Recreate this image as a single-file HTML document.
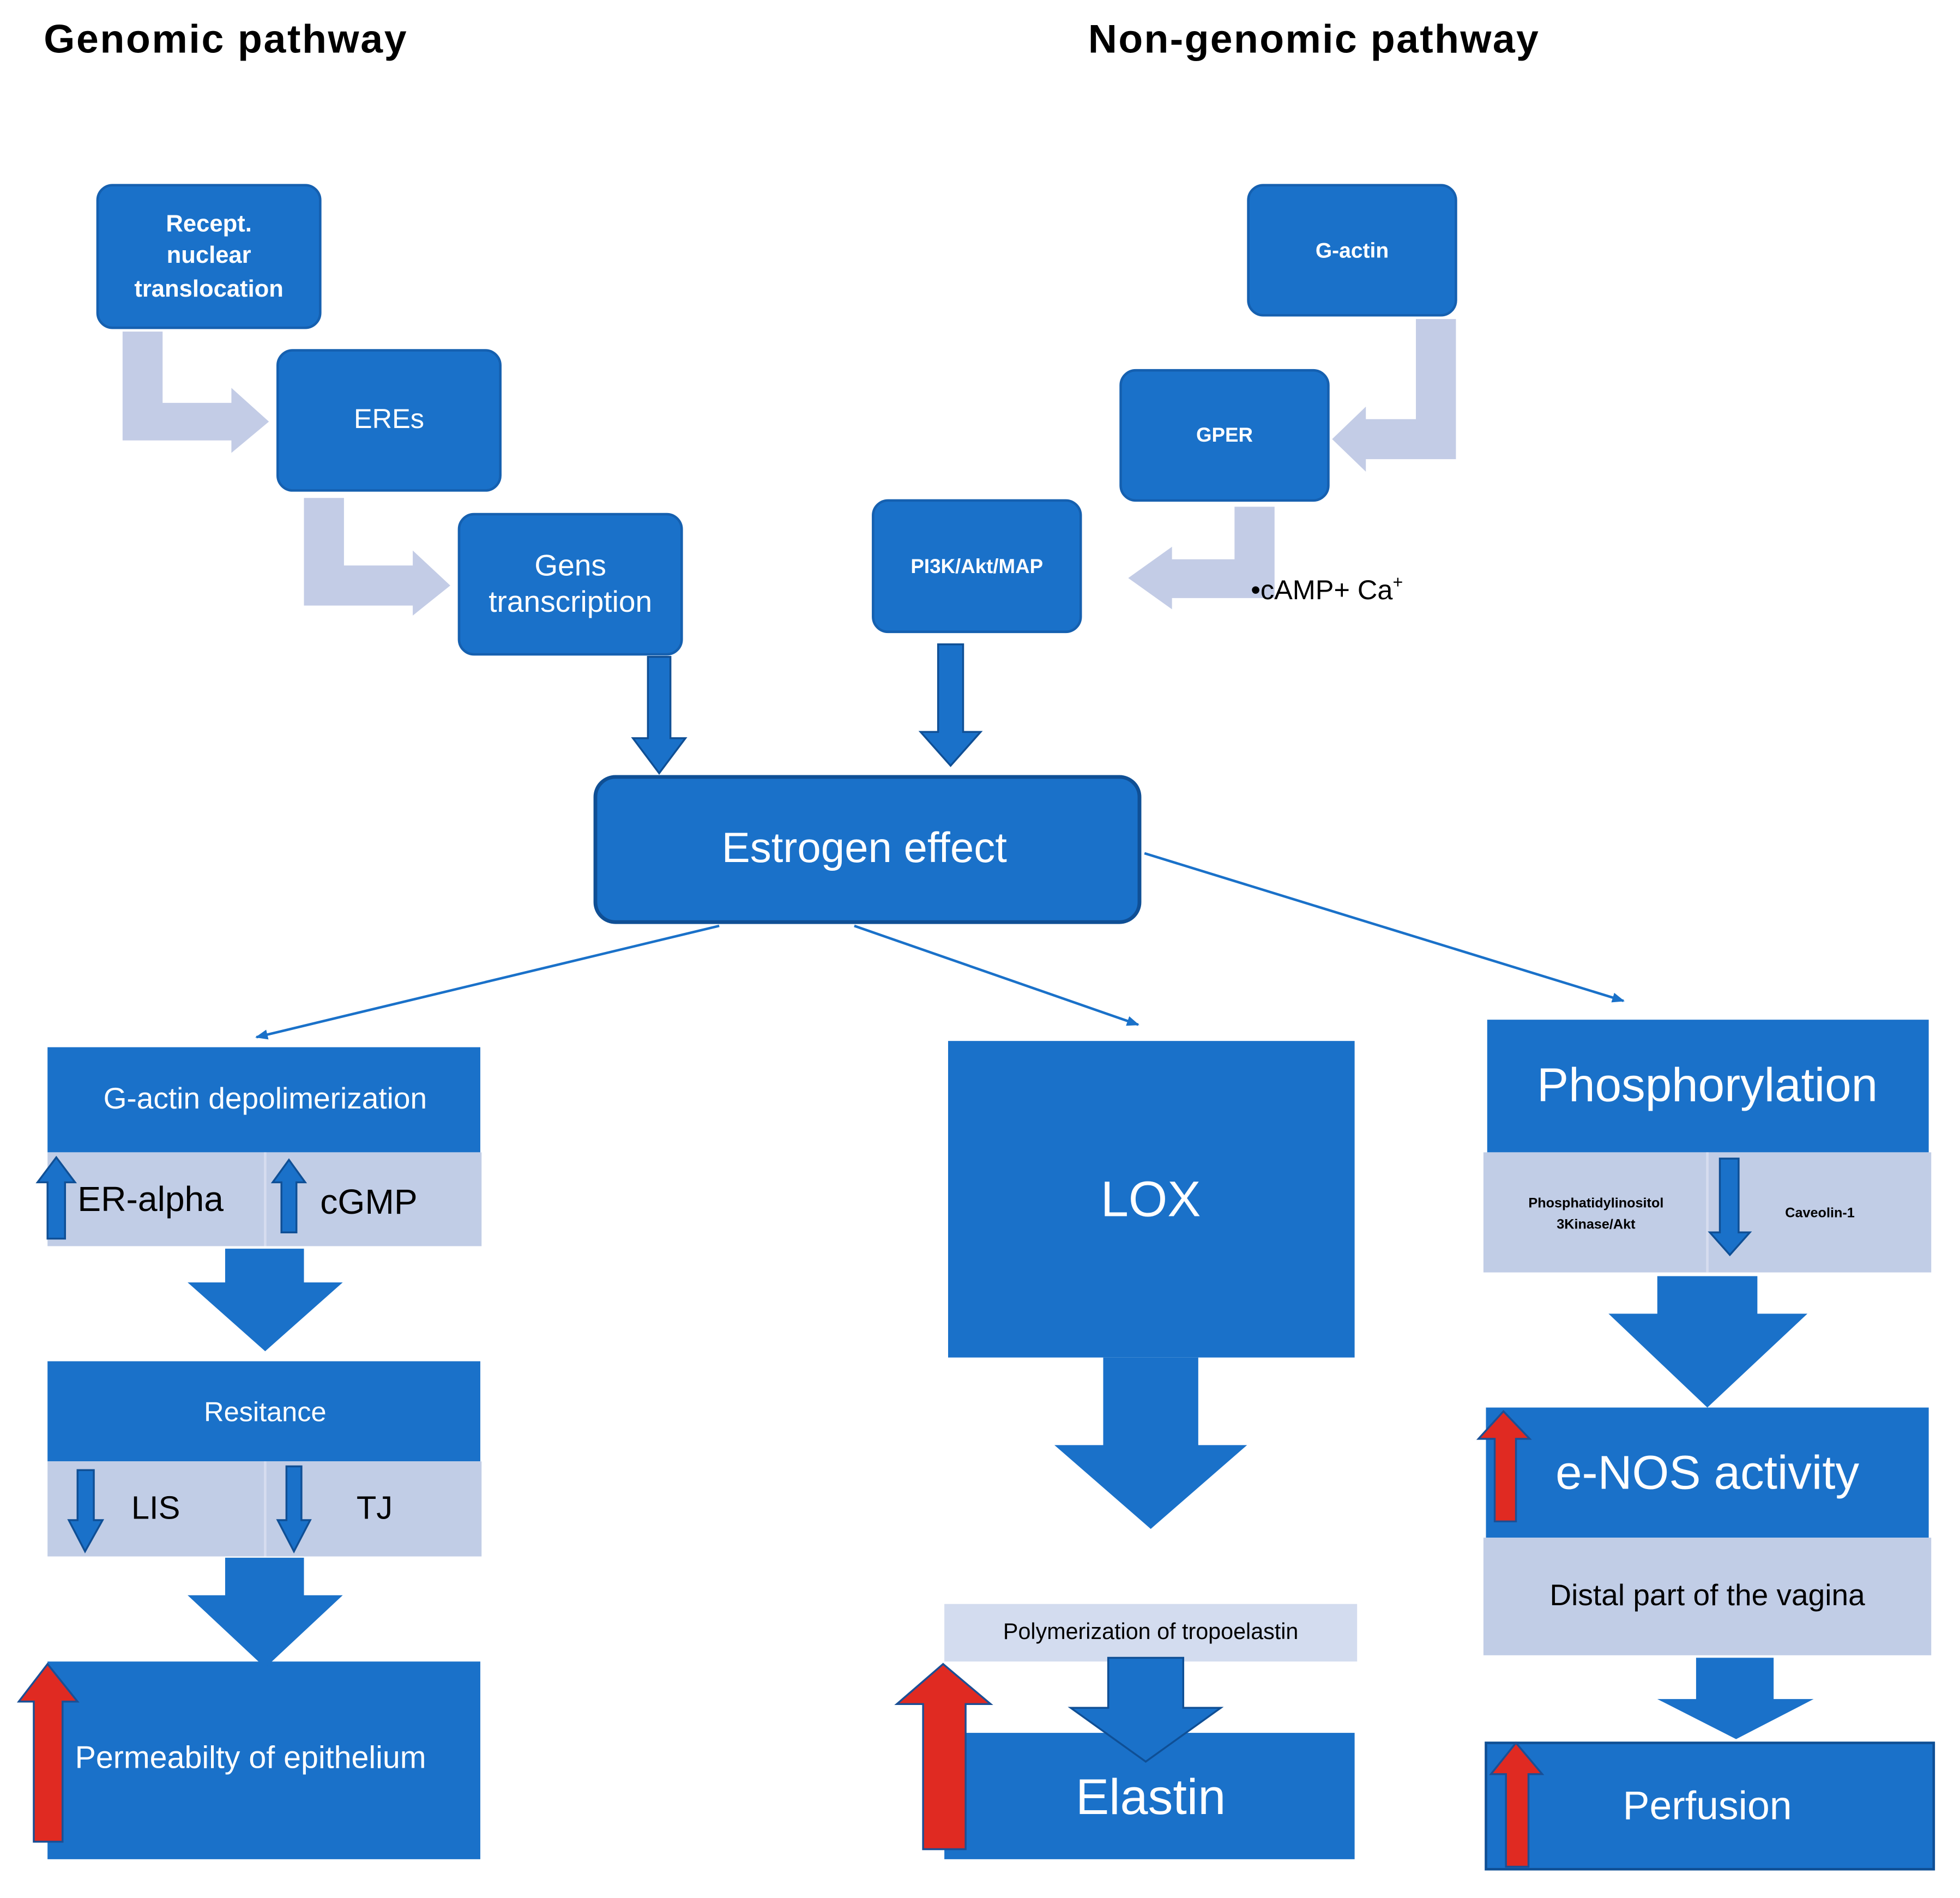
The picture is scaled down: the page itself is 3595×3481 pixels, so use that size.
<!DOCTYPE html>
<html><head><meta charset="utf-8"><style>html,body{margin:0;padding:0;background:#fff}svg{display:block}</style></head>
<body>
<svg width="3595" height="3481" viewBox="0 0 1567 1517" preserveAspectRatio="none" xmlns="http://www.w3.org/2000/svg" font-family="Liberation Sans, sans-serif">
<defs>
<marker id="ah" markerWidth="10" markerHeight="8" refX="9" refY="4" orient="auto" markerUnits="userSpaceOnUse"><path d="M0,0 L10,4 L0,8 Z" fill="#1a71c9"/></marker>
</defs>
<g font-weight="bold" font-size="32" fill="#000">
<text x="35" y="42" textLength="290">Genomic pathway</text>
<text x="870" y="42" textLength="360">Non-genomic pathway</text>
</g>
<g fill="#c3cce6">
<path d="M98,265 H130 V322 H185 V310 L215,337 L185,362 V352 H98 Z"/>
<path d="M243,398 H275 V452 H330 V440 L360,468 L330,492 V484 H243 Z"/>
<path d="M1132,255 H1164 V367 H1092 V377 L1065,351 L1092,325 V335 H1132 Z"/>
<path d="M987,405 H1019 V478 H937 V487 L902,462 L937,437 V447 H987 Z"/>
</g>
<g fill="#1a71c9" stroke="#1560b0" stroke-width="2">
<rect x="78" y="148" width="178" height="114" rx="12"/>
<rect x="222" y="280" width="178" height="112" rx="12"/>
<rect x="367" y="411" width="178" height="112" rx="12"/>
<rect x="998" y="148" width="166" height="104" rx="12"/>
<rect x="896" y="296" width="166" height="104" rx="12"/>
<rect x="698" y="400" width="166" height="105" rx="12"/>
<rect x="476" y="621" width="435" height="116" rx="16" stroke="#0f4f95" stroke-width="3"/>
</g>
<g fill="#fff" text-anchor="middle">
<g font-size="19" font-weight="bold"><text x="167" y="185">Recept.</text><text x="167" y="210">nuclear</text><text x="167" y="237">translocation</text></g>
<text x="311" y="342" font-size="22">EREs</text>
<text x="456" y="460" font-size="24">Gens</text><text x="456" y="489" font-size="24">transcription</text>
<text x="1081" y="206" font-size="17" font-weight="bold">G-actin</text>
<text x="979" y="353" font-size="16" font-weight="bold">GPER</text>
<text x="781" y="458" font-size="16" font-weight="bold">PI3K/Akt/MAP</text>
<text x="691" y="689" font-size="34">Estrogen effect</text>
</g>
<text x="1000" y="479" font-size="22" fill="#000">•cAMP+ Ca<tspan font-size="14" dy="-9">+</tspan></text>
<g fill="#1a71c9" stroke="#0f4f95" stroke-width="1.5">
<path d="M518,525 H536 V590 H548 L527,618 L506,590 H518 Z"/>
<path d="M750,515 H770 V585 H784 L760,612 L736,585 H750 Z"/>
</g>
<g stroke="#1a71c9" stroke-width="2" marker-end="url(#ah)">
<line x1="575" y1="740" x2="205" y2="829"/>
<line x1="683" y1="740" x2="910" y2="819"/>
<line x1="915" y1="682" x2="1298" y2="800"/>
</g>
<g fill="#1a71c9">
<rect x="38" y="837" width="346" height="84"/>
<rect x="38" y="1088" width="346" height="80"/>
<rect x="38" y="1328" width="346" height="158"/>
<path d="M180,998 H243 V1025 H274 L212,1080 L150,1025 H180 Z"/>
<path d="M180,1245 H243 V1275 H274 L212,1333 L150,1275 H180 Z"/>
</g>
<g fill="#c1cde6">
<rect x="38" y="921" width="347" height="75"/>
<rect x="38" y="1168" width="347" height="76"/>
</g>
<g stroke="#d6dcef" stroke-width="2"><line x1="212" y1="921" x2="212" y2="996"/><line x1="212" y1="1168" x2="212" y2="1244"/></g>
<g fill="#1a71c9" stroke="#0f4f95" stroke-width="1.5">
<path d="M38,990 V945 H30 L45,925 L60,945 H52 V990 Z"/>
<path d="M225,985 V945 H218 L231,927 L244,945 H237 V985 Z"/>
<path d="M62,1175 H75 V1215 H82 L68,1240 L55,1215 H62 Z"/>
<path d="M229,1172 H241 V1215 H248 L235,1240 L222,1215 H229 Z"/>
</g>
<g fill="#fff" text-anchor="middle">
<text x="212" y="886" font-size="24">G-actin depolimerization</text>
<text x="212" y="1136" font-size="22">Resitance</text>
</g>
<g fill="#000" font-size="28"><text x="62" y="968">ER-alpha</text><text x="256" y="970">cGMP</text>
<text x="105" y="1214" font-size="26">LIS</text><text x="285" y="1214" font-size="26">TJ</text></g>
<path d="M27,1472 V1360 H15 L38,1330 L62,1360 H50 V1472 Z" fill="#e02a22" stroke="#1a4f95" stroke-width="1.5"/>
<text x="60" y="1413" font-size="25" fill="#fff">Permeabilty of epithelium</text>
<g fill="#1a71c9">
<rect x="758" y="832" width="325" height="253"/>
<path d="M882,1085 H958 V1155 H997 L920,1222 L843,1155 H882 Z"/>
<rect x="755" y="1385" width="328" height="101"/>
</g>
<rect x="755" y="1282" width="330" height="46" fill="#d3dcef"/>
<path d="M886,1325 H946 V1365 H976 L916,1408 L856,1365 H886 Z" fill="#1a71c9" stroke="#0f4f95" stroke-width="1.5"/>
<path d="M738,1478 V1362 H717 L754,1330 L792,1362 H772 V1478 Z" fill="#e02a22" stroke="#1a4f95" stroke-width="1.5"/>
<text x="920" y="972" font-size="40" fill="#fff" text-anchor="middle">LOX</text>
<text x="920" y="1310" font-size="18" fill="#000" text-anchor="middle">Polymerization of tropoelastin</text>
<text x="920" y="1450" font-size="40" fill="#fff" text-anchor="middle">Elastin</text>
<g fill="#1a71c9">
<rect x="1189" y="815" width="353" height="106"/>
<path d="M1325,1020 H1405 V1050 H1445 L1365,1125 L1286,1050 H1325 Z"/>
<rect x="1188" y="1125" width="354" height="104"/>
<path d="M1356,1325 H1418 V1358 H1450 L1388,1390 L1325,1358 H1356 Z"/>
<rect x="1188" y="1393" width="358" height="101" stroke="#0f4f95" stroke-width="2"/>
</g>
<rect x="1186" y="921" width="358" height="96" fill="#c1cde6"/>
<line x1="1365" y1="921" x2="1365" y2="1017" stroke="#d6dcef" stroke-width="2"/>
<rect x="1186" y="1229" width="358" height="94" fill="#c1cde6"/>
<path d="M1375,926 H1390 V985 H1399 L1383,1003 L1367,985 H1375 Z" fill="#1a71c9" stroke="#0f4f95" stroke-width="1.5"/>
<path d="M1195,1216 V1150 H1182 L1202,1128 L1223,1150 H1212 V1216 Z" fill="#e02a22" stroke="#1a4f95" stroke-width="1.5"/>
<path d="M1204,1492 V1418 H1192 L1212,1393 L1233,1418 H1222 V1492 Z" fill="#e02a22" stroke="#1a4f95" stroke-width="1.5"/>
<g text-anchor="middle">
<text x="1365" y="880" font-size="38" fill="#fff">Phosphorylation</text>
<text x="1276" y="965" font-size="11" font-weight="bold">Phosphatidylinositol</text>
<text x="1276" y="982" font-size="11" font-weight="bold">3Kinase/Akt</text>
<text x="1455" y="973" font-size="11" font-weight="bold">Caveolin-1</text>
<text x="1365" y="1190" font-size="38" fill="#fff">e-NOS activity</text>
<text x="1365" y="1283" font-size="24">Distal part of the vagina</text>
<text x="1365" y="1454" font-size="32" fill="#fff">Perfusion</text>
</g>
</svg>
</body></html>
